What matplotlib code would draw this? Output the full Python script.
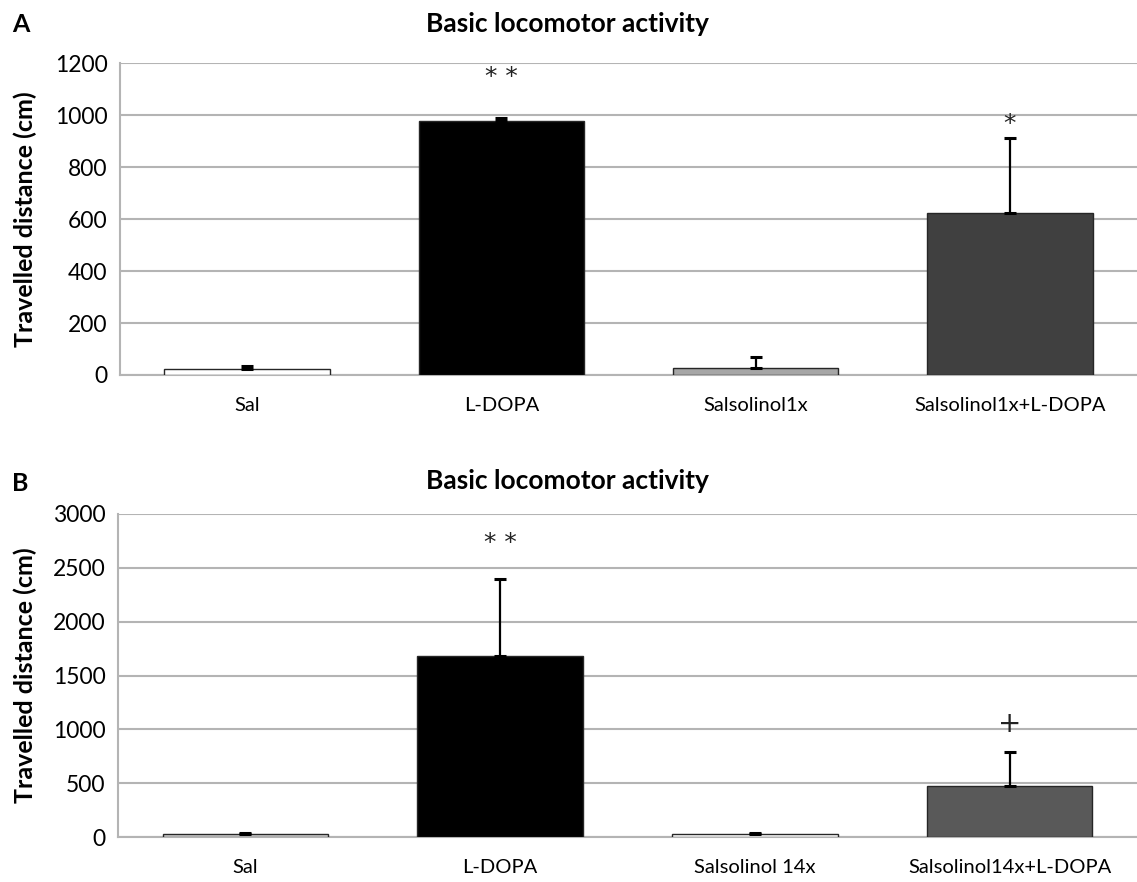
import matplotlib
matplotlib.use("Agg")
import matplotlib.pyplot as plt

plt.rcParams['font.family'] = ['Lato', 'DejaVu Sans']

cats_a = ["Sal", "L-DOPA", "Salsolinol1x", "Salsolinol1x+L-DOPA"]
vals_a = [22, 977, 27, 623]
errs_a = [12, 10, 42, 290]
sig_a = ["", "* *", "", "*"]
sig_pos_a = [0, 1145, 0, 965]
colors_a = ["#ffffff", "#000000", "#a6a6a6", "#404040"]

cats_b = ["Sal", "L-DOPA", "Salsolinol 14x", "Salsolinol14x+L-DOPA"]
vals_b = [28, 1680, 25, 472]
errs_b = [10, 720, 10, 320]
sig_b = ["", "* *", "", "+"]
sig_pos_b = [0, 2730, 0, 1050]
colors_b = ["#d0d0d0", "#000000", "#ffffff", "#595959"]

W, H = 1137, 882
fig = plt.figure(figsize=(W / 100, H / 100), dpi=100)


def panel(rect, cats, vals, errs, sigs, sigpos, colors, ymax, step, letter, letter_y, title_y):
    l, t, r, b = rect
    ax = fig.add_axes([l / W, 1 - b / H, (r - l) / W, (b - t) / H])
    x = range(len(cats))
    ax.bar(x, vals, width=0.65, color=colors, edgecolor="#262626", linewidth=1.0, zorder=3)
    ax.errorbar(x, vals, yerr=[[0] * len(vals), errs], fmt="none", ecolor="black",
                elinewidth=1.6, capsize=4.5, capthick=2.2, zorder=4)
    for xi, s, p in zip(x, sigs, sigpos):
        if s:
            fs = 18 if s != "+" else 20
            ax.text(xi, p, s, ha="center", va="center", fontsize=fs, color="#222222",
                    family="DejaVu Sans")
    ax.set_xlim(-0.5, len(cats) - 0.5)
    ax.set_ylim(0, ymax)
    ax.set_yticks(range(0, ymax + 1, step))
    ax.set_xticks(list(x))
    ax.set_xticklabels(cats, fontsize=14.5)
    ax.tick_params(axis="x", length=0, pad=16)
    ax.tick_params(axis="y", length=0, labelsize=16.5, pad=9)
    ax.yaxis.grid(True, color="#b4b4b4", linewidth=1.5, zorder=0)
    ax.set_axisbelow(True)
    for s in ("top", "right"):
        ax.spines[s].set_visible(False)
    for s in ("left", "bottom"):
        ax.spines[s].set_color("#b4b4b4")
        ax.spines[s].set_linewidth(1.5)
    ax.set_ylabel("Travelled distance (cm)", fontsize=18, fontweight="bold")
    ax.yaxis.set_label_coords((37 - l) / (r - l), 0.5)
    fig.text(12 / W, 1 - letter_y / H, letter, fontsize=18, fontweight="bold", va="center")
    fig.text(567 / W, 1 - title_y / H, "Basic locomotor activity", fontsize=19,
             fontweight="bold", ha="center", va="center")
    return ax


panel((120, 63, 1137, 375), cats_a, vals_a, errs_a, sig_a, sig_pos_a, colors_a,
      1200, 200, "A", 24, 24)
panel((118, 514, 1137, 837), cats_b, vals_b, errs_b, sig_b, sig_pos_b, colors_b,
      3000, 500, "B", 483, 481)

fig.savefig("out.png", dpi=100)
